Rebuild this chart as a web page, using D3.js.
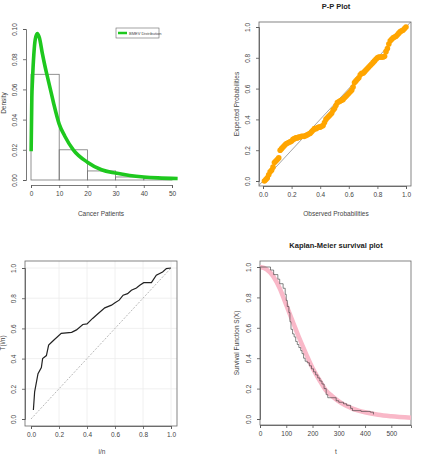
<!DOCTYPE html>
<html>
<head>
<meta charset="utf-8">
<script src="https://cdn.jsdelivr.net/npm/d3@7"></script>
<style>
  body { margin: 0; background: #fff; }
  svg text { font-family: "Liberation Sans", Arial, sans-serif; fill: #444; }
  .tick text { font-size: 6.5px; }
  .lab { font-size: 6.5px; }
  .ttl { font-size: 7.5px; font-weight: bold; fill: #222; }
</style>
</head>
<body>
<div id="chart"></div>
<script>
// histogram + fitted density (top left)
const histEdges = [0, 10, 20, 30, 40, 50];
const histDens = [0.07, 0.02, 0.006, 0.002, 0.001];
const densX = [0.05, 0.3, 0.5, 1, 1.5, 2.2, 3, 4, 5, 6, 7, 8, 10, 12, 15, 20, 25, 30, 35, 40, 45, 52];
const densY = [0.019, 0.055, 0.065, 0.083, 0.093, 0.097, 0.094, 0.084, 0.075, 0.067, 0.059, 0.051, 0.037, 0.029, 0.020, 0.0118, 0.0068, 0.0046, 0.003, 0.002, 0.0014, 0.001];
const densTicksX = [0, 10, 20, 30, 40, 50];
const densTicksY = [0, 0.02, 0.04, 0.06, 0.08, 0.10];

// P-P plot (top right)
const ppObs = [0.01,0.02,0.03,0.04,0.05,0.06,0.07,0.08,0.09,0.10,0.11,0.12,0.13,0.14,0.15,0.16,0.17,0.18,0.19,0.20,
  0.21,0.22,0.23,0.24,0.25,0.26,0.27,0.28,0.29,0.30,0.31,0.32,0.33,0.34,0.35,0.36,0.37,0.38,0.39,0.40,
  0.41,0.42,0.43,0.44,0.45,0.46,0.47,0.48,0.49,0.50,0.51,0.52,0.53,0.54,0.55,0.56,0.57,0.58,0.59,0.60,
  0.61,0.62,0.63,0.64,0.65,0.66,0.67,0.68,0.69,0.70,0.71,0.72,0.73,0.74,0.75,0.76,0.77,0.78,0.79,0.80,
  0.81,0.82,0.83,0.84,0.85,0.86,0.87,0.88,0.89,0.90,0.91,0.92,0.93,0.94,0.95,0.96,0.97,0.98,0.99,1.00];
const ppExp = [0.00,0.01,0.02,0.04,0.06,0.07,0.09,0.12,0.13,0.14,0.15,0.20,0.21,0.22,0.23,0.24,0.245,0.25,0.255,0.26,
  0.27,0.275,0.28,0.28,0.285,0.285,0.29,0.29,0.29,0.295,0.30,0.305,0.31,0.32,0.33,0.34,0.34,0.345,0.35,0.35,
  0.355,0.36,0.38,0.40,0.41,0.42,0.43,0.44,0.46,0.47,0.49,0.51,0.515,0.52,0.525,0.53,0.54,0.55,0.56,0.57,
  0.58,0.59,0.61,0.64,0.65,0.66,0.67,0.69,0.70,0.70,0.71,0.72,0.73,0.74,0.75,0.76,0.77,0.78,0.79,0.80,
  0.805,0.805,0.805,0.805,0.81,0.84,0.86,0.89,0.91,0.92,0.93,0.935,0.94,0.95,0.96,0.97,0.975,0.98,0.99,1.00];
const unitTicks = [0, 0.2, 0.4, 0.6, 0.8, 1.0];

// TTT plot (bottom left)
const tttX = [0.017,0.026,0.05,0.074,0.083,0.11,0.126,0.16,0.216,0.29,0.325,0.37,0.40,0.44,0.47,0.527,0.575,0.60,0.63,0.658,0.69,0.717,0.753,0.777,0.805,0.86,0.895,0.94,0.967,1.0];
const tttY = [0.06,0.18,0.30,0.34,0.40,0.42,0.49,0.52,0.567,0.574,0.59,0.626,0.63,0.666,0.69,0.736,0.754,0.77,0.787,0.82,0.83,0.853,0.868,0.886,0.903,0.903,0.952,0.974,0.996,1.0];

// Kaplan-Meier (bottom right)
const kmTime = [0,40,52,68,75,88,96,100,104,110,114,118,124,130,136,142,148,155,160,166,172,180,188,196,204,212,220,228,236,244,252,258,290,300,318,330,345,352,385,420,432];
const kmSurv = [1.0,0.98,0.95,0.92,0.89,0.86,0.82,0.78,0.74,0.70,0.64,0.59,0.56,0.54,0.51,0.49,0.47,0.45,0.43,0.40,0.38,0.37,0.35,0.33,0.31,0.29,0.27,0.25,0.23,0.20,0.16,0.14,0.12,0.11,0.10,0.09,0.07,0.055,0.05,0.045,0.03];
const fitT = [0,25,50,75,100,125,150,175,200,225,250,275,300,325,350,375,400,450,500,575];
const fitS = [1.0,0.985,0.94,0.86,0.75,0.64,0.53,0.43,0.335,0.26,0.19,0.15,0.116,0.09,0.07,0.055,0.044,0.028,0.018,0.008];
const kmTicksX = [0, 100, 200, 300, 400, 500];

const svg = d3.select("#chart").append("svg")
  .attr("width", 421).attr("height", 455);

function styleAxis(g) {
  g.selectAll(".domain").attr("stroke", "#555").attr("stroke-width", 0.8);
  g.selectAll(".tick line").attr("stroke", "#555").attr("stroke-width", 0.8);
}

function yAxisR(g, y, ticks, fmt, xPos) {
  const ax = g.append("g").attr("transform", `translate(${xPos},0)`)
    .call(d3.axisLeft(y).tickValues(ticks).tickFormat(fmt).tickSize(3).tickPadding(4));
  ax.selectAll(".tick text")
    .attr("transform", "rotate(-90)")
    .attr("x", 0).attr("y", -9)
    .attr("text-anchor", "middle").attr("dy", "0");
  styleAxis(ax);
  return ax;
}

function xAxisR(g, x, ticks, fmt, yPos) {
  const ax = g.append("g").attr("transform", `translate(0,${yPos})`)
    .call(d3.axisBottom(x).tickValues(ticks).tickFormat(fmt).tickSize(3).tickPadding(3));
  styleAxis(ax);
  return ax;
}

function box(g, x0, y0, x1, y1) {
  g.append("rect").attr("x", x0).attr("y", y0).attr("width", x1 - x0).attr("height", y1 - y0)
    .attr("fill", "none").attr("stroke", "#666").attr("stroke-width", 0.8);
}

function yLabel(g, text, x, y) {
  g.append("text").attr("class", "lab").attr("transform", `translate(${x},${y}) rotate(-90)`)
    .attr("text-anchor", "middle").text(text);
}
function xLabel(g, text, x, y) {
  g.append("text").attr("class", "lab").attr("x", x).attr("y", y)
    .attr("text-anchor", "middle").text(text);
}

const f1 = d3.format(".1f"), f2 = d3.format(".2f"), f0 = d3.format("d");

// ---- panel 1: histogram + density
{
  const g = svg.append("g");
  const x = d3.scaleLinear().domain([0, 50]).range([31, 172]);
  const y = d3.scaleLinear().domain([0, 0.10]).range([180, 29]);

  g.selectAll("rect.bar").data(histDens).enter().append("rect")
    .attr("class", "bar")
    .attr("x", (d, i) => x(histEdges[i]))
    .attr("y", d => y(d))
    .attr("width", (d, i) => x(histEdges[i + 1]) - x(histEdges[i]))
    .attr("height", d => y(0) - y(d))
    .attr("fill", "none").attr("stroke", "#777").attr("stroke-width", 0.8);

  const line = d3.line().x(d => x(d[0])).y(d => y(d[1])).curve(d3.curveMonotoneX);
  g.append("path").datum(densX.map((v, i) => [v, densY[i]]))
    .attr("d", line).attr("fill", "none").attr("stroke", "#1ec81e").attr("stroke-width", 3.6);

  yAxisR(g, y, densTicksY, f2, 26);
  xAxisR(g, x, densTicksX, f0, 185);
  yLabel(g, "Density", 6, 103);
  xLabel(g, "Cancer Patients", 101, 216);

  // legend
  const lg = g.append("g").attr("transform", "translate(116,28)");
  lg.append("rect").attr("width", 43).attr("height", 10)
    .attr("fill", "#fff").attr("stroke", "#666").attr("stroke-width", 0.6);
  lg.append("line").attr("x1", 2).attr("x2", 11).attr("y1", 5).attr("y2", 5)
    .attr("stroke", "#1ec81e").attr("stroke-width", 2.5);
  lg.append("text").attr("x", 13).attr("y", 6.6).style("font-size", "4px").text("BMEV Distribution");
}

// ---- panel 2: P-P plot
{
  const g = svg.append("g");
  const x = d3.scaleLinear().domain([0, 1]).range([263, 406]);
  const y = d3.scaleLinear().domain([0, 1]).range([181, 27]);
  box(g, 259, 22, 411, 186);
  g.append("clipPath").attr("id", "c2").append("rect")
    .attr("x", 259).attr("y", 22).attr("width", 152).attr("height", 164);
  g.append("line").attr("clip-path", "url(#c2)")
    .attr("x1", x(-0.1)).attr("y1", y(-0.1)).attr("x2", x(1.1)).attr("y2", y(1.1))
    .attr("stroke", "#666").attr("stroke-width", 0.6);
  g.selectAll("circle").data(ppObs).enter().append("circle")
    .attr("cx", d => x(d)).attr("cy", (d, i) => y(ppExp[i]))
    .attr("r", 2.8).attr("fill", "#ffa500");
  yAxisR(g, y, unitTicks, f1, 259);
  xAxisR(g, x, unitTicks, f1, 186);
  g.append("text").attr("class", "ttl").attr("x", 336).attr("y", 9)
    .attr("text-anchor", "middle").text("P-P Plot");
  yLabel(g, "Expected Probabilities", 239, 104);
  xLabel(g, "Observed Probabilities", 336, 216);
}

// ---- panel 3: TTT plot
{
  const g = svg.append("g");
  const x = d3.scaleLinear().domain([0, 1]).range([31, 171]);
  const y = d3.scaleLinear().domain([0, 1]).range([419, 268]);
  unitTicks.slice(1).forEach(t => {
    g.append("line").attr("x1", x(t)).attr("x2", x(t)).attr("y1", 261).attr("y2", 426)
      .attr("stroke", "#ececec").attr("stroke-width", 0.8);
    g.append("line").attr("x1", 25).attr("x2", 177).attr("y1", y(t)).attr("y2", y(t))
      .attr("stroke", "#ececec").attr("stroke-width", 0.8);
  });
  box(g, 25, 261, 177, 426);
  g.append("line").attr("x1", x(0)).attr("y1", y(0)).attr("x2", x(1)).attr("y2", y(1))
    .attr("stroke", "#888").attr("stroke-width", 0.6).attr("stroke-dasharray", "2,1.5");
  const line = d3.line().x(d => x(d[0])).y(d => y(d[1]));
  g.append("path").datum(tttX.map((v, i) => [v, tttY[i]]))
    .attr("d", line).attr("fill", "none").attr("stroke", "#222").attr("stroke-width", 1.2);
  yAxisR(g, y, unitTicks, f1, 25);
  xAxisR(g, x, unitTicks, f1, 426);
  yLabel(g, "T(i/n)", 5, 343);
  xLabel(g, "i/n", 102, 454);
}

// ---- panel 4: Kaplan-Meier
{
  const g = svg.append("g");
  const x = d3.scaleLinear().domain([0, 575]).range([260, 411]);
  const y = d3.scaleLinear().domain([0, 1]).range([419, 267]);
  box(g, 260, 261, 411, 425);
  const fit = d3.line().x(d => x(d[0])).y(d => y(d[1])).curve(d3.curveMonotoneX);
  g.append("path").datum(fitT.map((v, i) => [v, fitS[i]]))
    .attr("d", fit).attr("fill", "none").attr("stroke", "#f9b8c8").attr("stroke-width", 4.5);
  const step = d3.line().x(d => x(d[0])).y(d => y(d[1])).curve(d3.curveStepAfter);
  g.append("path").datum(kmTime.map((v, i) => [v, kmSurv[i]]))
    .attr("d", step).attr("fill", "none").attr("stroke", "#333").attr("stroke-width", 0.6);
  yAxisR(g, y, unitTicks, f1, 260);
  xAxisR(g, x, kmTicksX, f0, 425);
  g.append("text").attr("class", "ttl").attr("x", 336).attr("y", 248)
    .attr("text-anchor", "middle").text("Kaplan-Meier survival plot");
  yLabel(g, "Survival  Function S(X)", 239, 343);
  xLabel(g, "t", 336, 454);
}
</script>
</body>
</html>
